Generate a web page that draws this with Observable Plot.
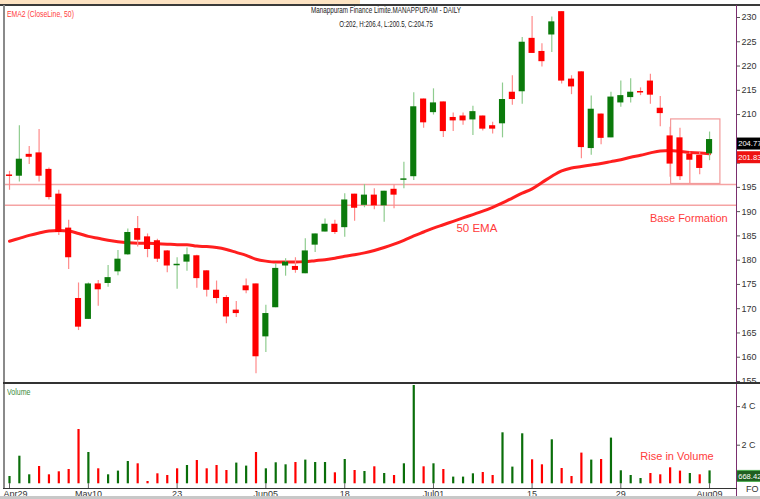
<!DOCTYPE html>
<html><head><meta charset="utf-8">
<script src="https://cdn.jsdelivr.net/npm/d3@7"></script>
<script src="https://cdn.jsdelivr.net/npm/@observablehq/plot@0.6"></script>
<style>
body{margin:0;background:#fff;}
#chart{position:relative;width:760px;height:499px;overflow:hidden;background:#fff;font-family:"Liberation Sans",Arial,sans-serif;}
.p{position:absolute;left:0;}
.d{position:absolute;pointer-events:none;z-index:3;}
.t{position:absolute;z-index:4;white-space:nowrap;line-height:1;}
</style></head><body>
<div id="chart">
  <div class="p" id="price" style="top:0"></div>
  <div class="p" id="vol" style="top:383px"></div>
  <div class="d" style="left:0;top:0;width:360px;height:4px;background:#fde3c3"></div>
  <div class="d" style="left:0;top:4px;width:760px;height:2px;background:#3a3a3a"></div>
  <div class="d" style="left:3px;top:5px;width:2px;height:484px;background:#8a8a8a"></div>
  <div class="d" style="left:736px;top:5px;width:1px;height:494px;background:#7a2e6e"></div>
  <div class="d" style="left:3px;top:382px;width:757px;height:1.5px;background:#333"></div>
  <div class="d" style="left:3px;top:488px;width:734px;height:1px;background:#333"></div>
  <div class="d" style="left:0;top:496px;width:760px;height:3px;background:#c8c8c8"></div>
  <div class="t" style="left:7px;top:8.5px;font-size:9.5px;color:#ff3c3c;transform:scaleX(0.72);transform-origin:left center">EMA2 (CloseLine, 50)</div>
  <div class="t" style="left:386px;top:6px;font-size:9px;color:#222;transform:translateX(-50%) scaleX(0.7);transform-origin:center">Manappuram Finance Limite.MANAPPURAM - DAILY</div>
  <div class="t" style="left:386px;top:19.5px;font-size:9px;color:#222;transform:translateX(-50%) scaleX(0.68);transform-origin:center">O:202, H:206.4, L:200.5, C:204.75</div>
  <div class="t" style="left:7px;top:387.5px;font-size:9px;color:#3a8a3a;transform:scaleX(0.78);transform-origin:left center">Volume</div>
  <div class="t" style="left:746px;top:485px;font-size:9px;color:#333">FO</div>
</div>
<script>
const FONT = '"Liberation Sans",Arial,sans-serif';

const open  = [197.45,197.4,201.7,202.0,198.6,193.5,186.5,172.0,167.9,175.0,175.3,177.7,181.2,186.4,184.7,183.9,181.8,178.95,179.7,180.8,177.7,173.7,172.2,169.6,174.6,175.0,164.3,170.3,178.9,178.6,177.3,183.2,185.9,187.3,186.8,193.5,191.4,193.3,191.3,194.5,196.55,197.3,213.1,210.5,212.5,209.3,209.6,209.0,209.6,207.6,208.2,214.5,214.8,225.6,222.9,226.5,231.1,217.2,218.7,203.1,210.0,205.3,212.5,213.6,214.65,216.8,211.2,205.5,205.1,201.7,201.5,202.0];
const high  = [198.3,207.7,203.4,206.9,199.0,194.4,188.2,175.3,175.3,175.8,178.9,182.0,186.4,189.0,185.4,184.3,182.0,180.5,182.5,181.0,177.8,175.7,172.7,171.5,176.1,175.1,170.7,179.3,180.3,180.5,184.4,185.4,188.5,188.2,193.7,193.6,195.6,194.7,194.2,195.5,200.2,214.5,213.2,215.3,212.6,210.3,210.3,211.7,209.7,208.4,216.5,218.0,225.9,230.2,224.6,230.1,231.2,218.0,218.8,213.8,210.1,214.6,216.9,217.4,215.5,218.3,213.7,207.4,207.2,202.3,202.3,206.4];
const low   = [194.4,196.1,199.7,196.1,192.4,185.1,178.1,165.5,167.8,170.5,174.4,176.8,181.0,182.7,180.5,179.5,177.4,174.0,177.7,174.2,172.4,171.0,166.9,168.2,173.1,156.6,161.0,170.2,176.7,177.3,177.2,181.6,185.8,185.3,184.7,188.0,190.8,190.4,187.8,190.6,194.7,196.4,207.2,209.9,205.3,206.5,207.8,205.7,206.6,206.0,205.2,211.9,212.1,222.6,219.8,222.8,216.3,214.1,200.9,201.6,203.8,205.2,211.5,212.4,213.9,212.1,207.5,197.1,196.4,195.8,197.6,200.5];
const close = [197.35,200.7,201.3,197.4,193.0,185.8,180.6,166.3,175.0,174.0,176.3,180.1,185.6,184.2,182.3,180.3,178.9,179.05,181.0,176.3,173.9,172.2,168.4,169.1,173.8,160.2,168.9,178.2,179.5,178.0,181.8,185.3,187.3,185.8,192.3,190.8,193.3,191.3,194.1,193.5,196.65,211.5,208.4,212.3,206.6,208.8,208.8,210.5,207.1,207.1,213.0,213.2,224.8,222.7,221.0,229.0,217.0,215.8,203.3,211.0,205.2,213.5,213.8,214.5,214.55,214.1,210.3,199.9,197.3,200.7,199.0,204.75];
const ema50 = [183.9,184.5,185.1,185.6,186.0,186.1,186.0,185.5,184.9,184.5,184.1,183.8,183.6,183.5,183.5,183.4,183.3,183.2,183.2,182.9,182.8,182.6,182.2,181.6,181.0,180.2,179.8,179.6,179.6,179.6,179.7,179.9,180.1,180.4,180.8,181.1,181.5,182.0,182.6,183.3,184.1,185.0,185.8,186.6,187.3,188.0,188.7,189.4,190.1,190.9,191.8,192.8,193.8,194.7,196.0,197.3,198.4,199.0,199.3,199.6,199.9,200.3,200.7,201.2,201.6,202.1,202.5,202.6,202.4,202.2,202.1,201.9];
const volume = [378,1430,466,896,466,622,741,2813,1622,777,466,658,1155,1036,119,518,430,777,948,1207,777,948,689,1073,917,1622,777,1088,984,1104,1228,1104,1104,570,1259,689,637,881,534,430,1036,5093,881,1036,741,347,347,518,585,430,2642,865,2591,1244,984,2280,793,378,1591,1228,1259,2368,674,430,275,534,466,829,658,534,466,668.42];
const volumeUp = [1,1,1,0,0,0,0,0,1,0,1,1,1,0,0,0,0,0,1,0,0,0,0,1,1,0,1,1,1,0,1,1,1,0,1,0,1,0,1,0,1,1,0,1,0,1,1,1,0,0,1,1,1,0,0,1,0,0,0,1,0,1,1,1,1,0,0,0,0,1,0,1];
const dateTickIndex = [0,8,17,26,34,43,53,62,71];
const dateTickLabels = ["Apr29","May10","23","Jun05","18","Jul01","15","29","Aug09"];
const priceTicks = [155,160,165,170,175,180,185,190,195,200,205,210,215,220,225,230];
const hiddenPriceLabels = [200, 205];
const volumeTicks = [2000,4000];
const supportLevels = [195.6, 191.3];
const baseBox = [{x1: 67.1, x2: 72.1, y1: 195.7, y2: 209.0}];
const lastCloseTag = [{v: 204.75, label: "204.77"}];
const lastEmaTag = [{v: 201.83, label: "201.83"}];
const lastVolTag = [{v: 668.42, label: "668.42"}];

const GREEN = "#0b7a0b", RED = "#ff0000", GREEN_W = "#8fcc8f", RED_W = "#ff8a8a";
const candles = open.map((o, i) => ({i, open: o, high: high[i], low: low[i], close: close[i], up: close[i] >= o}));
const emaPts = ema50.map((v, i) => ({i, v}));
const vols = volume.map((v, i) => ({i, v, up: volumeUp[i] === 1}));
const xRange = [9, 9 + 9.86 * 71];
const tagX1 = 73.8, tagX2 = 76.5;

const price = Plot.plot({
  width: 760, height: 388, marginTop: 0, marginLeft: 3, marginRight: 24, marginBottom: 0,
  style: {fontFamily: FONT, fontSize: "9px", color: "#333", background: "white"},
  x: {type: "linear", domain: [0, 71], range: xRange, axis: null},
  y: {type: "linear", domain: [155, 230], range: [381, 17], axis: null},
  marks: [
    Plot.ruleY(supportLevels, {stroke: "#f5a3a3", strokeWidth: 1.5}),
    Plot.rect(baseBox, {x1: "x1", x2: "x2", y1: "y1", y2: "y2", fill: "none", stroke: "#f29b9b", strokeWidth: 1.2}),
    Plot.line(emaPts, {x: "i", y: "v", stroke: "#ff1f1f", strokeWidth: 3, curve: "monotone-x"}),
    Plot.ruleX(candles, {x: "i", y1: "low", y2: "high", stroke: d => d.up ? GREEN_W : RED_W, strokeWidth: 1.2}),
    Plot.rect(candles, {x1: d => d.i - 0.31, x2: d => d.i + 0.31, y1: "open", y2: "close", fill: d => d.up ? GREEN : RED, insetTop: -0.5, insetBottom: -0.5}),
    Plot.axisY({anchor: "right", ticks: priceTicks, tickSize: 3, stroke: "#555", fill: "none", label: null}),
    Plot.axisY({anchor: "right", ticks: priceTicks.filter(t => !hiddenPriceLabels.includes(t)), tickSize: 0, tickPadding: 5, fontSize: 9, fill: "#333", label: null}),
    Plot.rect(lastCloseTag, {x1: tagX1, x2: tagX2, y1: "v", y2: "v", insetTop: -6, insetBottom: -6, dy: 4, fill: "#000"}),
    Plot.text(lastCloseTag, {x: tagX1, y: "v", dx: 1, dy: 4, text: "label", textAnchor: "start", fill: "white", fontSize: 7.6}),
    Plot.rect(lastEmaTag, {x1: tagX1, x2: tagX2, y1: "v", y2: "v", insetTop: -6, insetBottom: -6, dy: 3.5, fill: "#ee1111"}),
    Plot.text(lastEmaTag, {x: tagX1, y: "v", dx: 1, dy: 3.5, text: "label", textAnchor: "start", fill: "white", fontSize: 7.6}),
    Plot.text(["50 EMA"], {x: 47.4, y: 186.5, text: d => d, fill: "#ff3b3b", fontSize: 11.5}),
    Plot.text(["Base Formation"], {x: 68.9, y: 188.6, text: d => d, fill: "#ff3b3b", fontSize: 11})
  ]
});
document.getElementById("price").appendChild(price);

const vol = Plot.plot({
  width: 760, height: 116, marginTop: 0, marginLeft: 3, marginRight: 24, marginBottom: 11,
  style: {fontFamily: FONT, fontSize: "9px", color: "#333", background: "transparent"},
  x: {type: "linear", domain: [0, 71], range: xRange, axis: null},
  y: {type: "linear", domain: [0, 4000], range: [100.3, 23.1], axis: null},
  marks: [
    Plot.ruleX(vols, {x: "i", y1: 0, y2: "v", stroke: d => d.up ? "#0a6e0a" : RED, strokeWidth: 2.2}),
    Plot.axisY({anchor: "right", ticks: volumeTicks, tickFormat: d => d / 1000 + " C", tickSize: 3, tickPadding: 2, fontSize: 9, stroke: "#555", fill: "#333", label: null}),
    Plot.tickX(dateTickIndex, {x: d => d, insetTop: 100, stroke: "#666"}),
    Plot.text(dateTickIndex.slice(0, 1), {x: d => d, frameAnchor: "bottom", text: () => dateTickLabels[0], textAnchor: "start", dx: -6, dy: 5.5, lineAnchor: "middle", fontSize: 9, fill: "#333"}),
    Plot.text(dateTickIndex.slice(1), {x: d => d, frameAnchor: "bottom", text: (d, j) => dateTickLabels[j + 1], dy: 5.5, lineAnchor: "middle", fontSize: 9, fill: "#333"}),
    Plot.rect(lastVolTag, {x1: tagX1, x2: tagX2, y1: "v", y2: "v", insetTop: -5.5, insetBottom: -5.5, dy: 5.5, fill: "#1f5f1f", stroke: "#4caf50"}),
    Plot.text(lastVolTag, {x: tagX1, y: "v", dx: 1, dy: 5.5, text: "label", textAnchor: "start", fill: "white", fontSize: 7.6}),
    Plot.text(["Rise in Volume"], {x: 67.7, y: 1414, text: d => d, fill: "#ff3b3b", fontSize: 11})
  ]
});
document.getElementById("vol").appendChild(vol);
</script>
</body></html>
